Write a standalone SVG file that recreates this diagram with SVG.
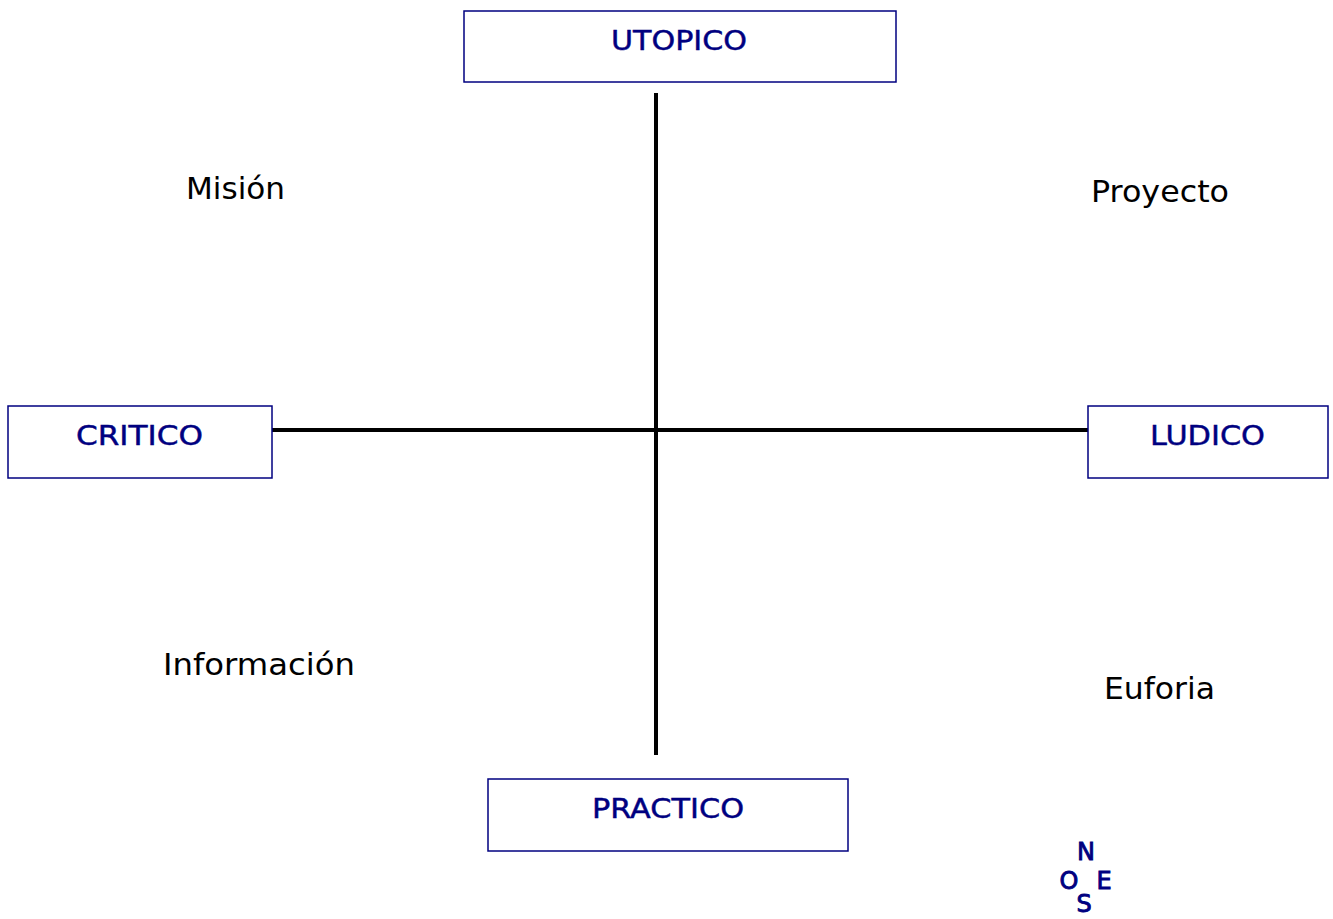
<svg xmlns="http://www.w3.org/2000/svg" width="1333" height="919" viewBox="0 0 1333 919">
<style>
.box{fill:#fff;stroke:#000080;stroke-width:1.5}
.lbl{font-family:"DejaVu Sans","Liberation Sans",sans-serif;font-size:27px;fill:#000080;stroke:#000080;stroke-width:0.45;text-anchor:middle}
.txt{font-family:"DejaVu Sans","Liberation Sans",sans-serif;font-size:30px;fill:#000}
.cmp{font-family:"DejaVu Sans","Liberation Sans",sans-serif;font-size:24px;fill:#000080;stroke:#000080;stroke-width:0.9;text-anchor:middle}
.ax{stroke:#000;stroke-width:4;fill:none}
</style>
<rect width="1333" height="919" fill="#fff"/>
<g id="connectors">
<line class="ax" x1="656" y1="93" x2="656" y2="755"/>
<line class="ax" x1="272" y1="430" x2="1088" y2="430"/>
</g>
<g id="utopico"><rect class="box" x="464" y="11" width="432" height="71"/><text class="lbl" x="679" y="50" textLength="136" lengthAdjust="spacingAndGlyphs">UTOPICO</text></g>
<g id="critico"><rect class="box" x="8" y="406" width="264" height="72"/><text class="lbl" x="139.5" y="445" textLength="127" lengthAdjust="spacingAndGlyphs">CRITICO</text></g>
<g id="ludico"><rect class="box" x="1088" y="406" width="240" height="72"/><text class="lbl" x="1207.5" y="445" textLength="115" lengthAdjust="spacingAndGlyphs">LUDICO</text></g>
<g id="practico"><rect class="box" x="488" y="779" width="360" height="72"/><text class="lbl" x="668" y="818" textLength="152" lengthAdjust="spacingAndGlyphs">PRACTICO</text></g>
<g id="quadrants">
<text class="txt" x="186" y="199" textLength="99" lengthAdjust="spacingAndGlyphs">Misión</text>
<text class="txt" x="1091" y="202" textLength="138" lengthAdjust="spacingAndGlyphs">Proyecto</text>
<text class="txt" x="163" y="675" textLength="192" lengthAdjust="spacingAndGlyphs">Información</text>
<text class="txt" x="1104" y="699" textLength="111" lengthAdjust="spacingAndGlyphs">Euforia</text>
</g>
<g id="compass">
<text class="cmp" x="1086" y="860">N</text>
<text class="cmp" x="1069" y="889">O</text>
<text class="cmp" x="1104" y="889">E</text>
<text class="cmp" x="1084" y="912">S</text>
</g>
</svg>
